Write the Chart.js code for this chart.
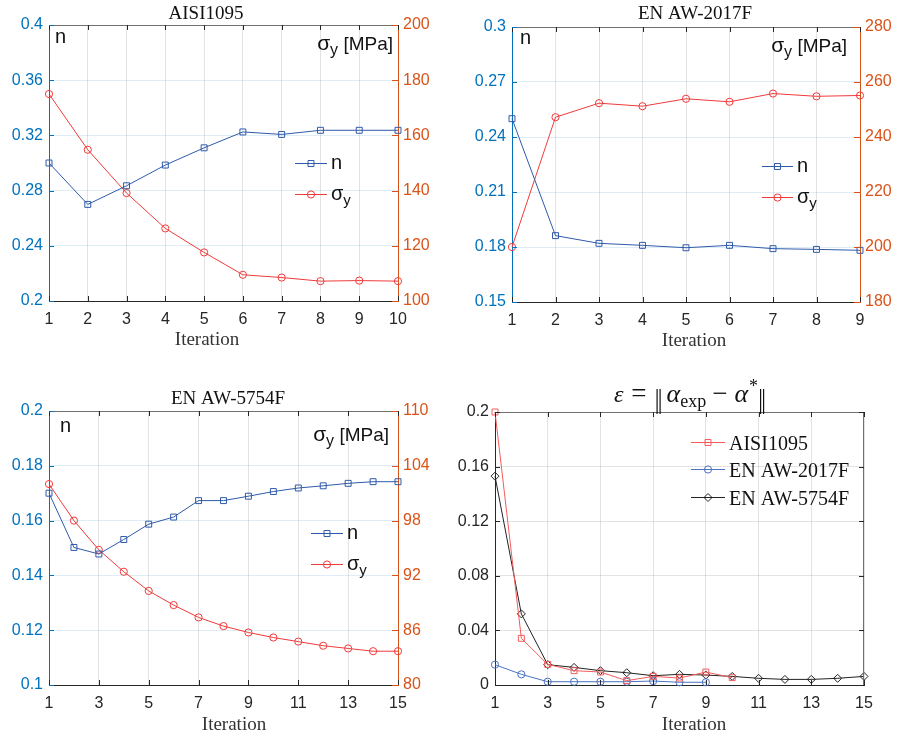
<!DOCTYPE html>
<html>
<head>
<meta charset="utf-8">
<script src="https://cdn.jsdelivr.net/npm/chart.js@4.4.0/dist/chart.umd.min.js"></script>
<style>
  body { margin: 0; background: #fff; }
  #wrap { position: relative; width: 898px; height: 740px; }
  canvas { position: absolute; left: 0; top: 0; }
</style>
</head>
<body>
<div id="wrap">
  <canvas id="c1" width="898" height="740"></canvas>
  <canvas id="c2" width="898" height="740"></canvas>
  <canvas id="c3" width="898" height="740"></canvas>
  <canvas id="c4" width="898" height="740"></canvas>
</div>
<script>
// iterations
const iter10 = [1, 2, 3, 4, 5, 6, 7, 8, 9, 10];
const iter9 = [1, 2, 3, 4, 5, 6, 7, 8, 9];
const iter15 = [1, 2, 3, 4, 5, 6, 7, 8, 9, 10, 11, 12, 13, 14, 15];

// AISI1095
const nAisi = [0.300, 0.270, 0.2835, 0.2985, 0.311, 0.3225, 0.3207, 0.3237, 0.3237, 0.3237];
const syAisi = [175, 154.8, 139.1, 126.3, 117.6, 109.5, 108.5, 107.2, 107.4, 107.2];

// EN AW-2017F
const n2017 = [0.250, 0.1862, 0.182, 0.1809, 0.1796, 0.1809, 0.1791, 0.1787, 0.1782];
const sy2017 = [200, 247.2, 252.3, 251.2, 253.9, 252.8, 255.8, 254.8, 255.1];

// EN AW-5754F
const n5754 = [0.170, 0.1502, 0.1478, 0.1531, 0.1587, 0.1613, 0.1673, 0.1673, 0.1689, 0.1706, 0.1719, 0.1727, 0.1736, 0.1742, 0.1742];
const sy5754 = [102.0, 98.0, 94.8, 92.4, 90.3, 88.75, 87.4, 86.45, 85.75, 85.2, 84.75, 84.3, 84.0, 83.7, 83.7];

// error norm
const errAisi = [0.200, 0.0342, 0.0151, 0.0105, 0.0095, 0.0032, 0.0063, 0.0051, 0.0095, 0.0054];
const err2017 = [0.0149, 0.0078, 0.0024, 0.0024, 0.0024, 0.0024, 0.0029, 0.002, 0.002];
const err5754 = [0.153, 0.0521, 0.0149, 0.0129, 0.0105, 0.009, 0.0068, 0.0078, 0.0073, 0.0063, 0.0049, 0.0041, 0.0041, 0.0049, 0.0063];

// tick labels
const xTicks10 = [1, 2, 3, 4, 5, 6, 7, 8, 9, 10];
const xTicks9 = [1, 2, 3, 4, 5, 6, 7, 8, 9];
const xTicks15 = [1, 3, 5, 7, 9, 11, 13, 15];
const nTicksAisi = [0.2, 0.24, 0.28, 0.32, 0.36, 0.4];
const syTicksAisi = [100, 120, 140, 160, 180, 200];
const nTicks2017 = [0.15, 0.18, 0.21, 0.24, 0.27, 0.3];
const syTicks2017 = [180, 200, 220, 240, 260, 280];
const nTicks5754 = [0.1, 0.12, 0.14, 0.16, 0.18, 0.2];
const syTicks5754 = [80, 86, 92, 98, 104, 110];
const errTicks = [0, 0.04, 0.08, 0.12, 0.16, 0.2];

const AX_BLUE = '#0072BD';
const AX_ORANGE = '#D95319';
const DARK = '#262626';
const LINE_BLUE = '#2f5aaa';
const LINE_RED = '#f03a3a';
const SANS = '"Liberation Sans", Arial, sans-serif';
const SERIF = '"Liberation Serif", "Times New Roman", serif';
const W = 898, H = 740;

Chart.defaults.font.family = SANS;

function series(xs, ys) {
  return ys.map((v, i) => ({ x: xs[i], y: v }));
}

function fixTicks(list) {
  return scale => { scale.ticks = list.map(v => ({ value: v })); };
}

// force the size of an axis box so the plot area lands where we want it
function sizeTo(n) {
  return scale => {
    if (scale.isHorizontal()) scale.height = n; else scale.width = n;
  };
}

function fmt(v) {
  return String(+v.toFixed(4));
}

function seg(ctx, x1, y1, x2, y2) {
  ctx.beginPath();
  ctx.moveTo(x1, y1);
  ctx.lineTo(x2, y2);
  ctx.stroke();
}

// parts: [{t, font, dy, gap}] or {bar: true, w}
function rich(ctx, parts, x, y, align, color) {
  const widthOf = p => {
    let g = p.gap || 0;
    if (p.bar) return g + p.w;
    ctx.font = p.font;
    return g + ctx.measureText(p.t).width;
  };
  let w = 0;
  parts.forEach(p => { w += widthOf(p); });
  let cx = align === 'right' ? x - w : align === 'center' ? x - w / 2 : x;
  ctx.fillStyle = color;
  ctx.strokeStyle = color;
  ctx.textAlign = 'left';
  ctx.textBaseline = 'alphabetic';
  parts.forEach(p => {
    const g = p.gap || 0;
    if (p.bar) {
      ctx.lineWidth = 1.2;
      seg(ctx, cx + g + 1.5, y - p.up, cx + g + 1.5, y + p.down);
      seg(ctx, cx + g + 4.5, y - p.up, cx + g + 4.5, y + p.down);
    } else {
      ctx.font = p.font;
      ctx.fillText(p.t, cx + g, y + (p.dy || 0));
    }
    cx += widthOf(p);
  });
}

function labelParts(label, size, family) {
  const bits = label.split('_');
  const parts = [{ t: bits[0], font: size + 'px ' + family }];
  if (bits[1]) parts.push({ t: bits[1], font: Math.round(size * 0.75) + 'px ' + family, dy: 5 });
  return parts;
}

function decor(cfg) {
  return {
    id: 'decor',
    afterDraw(chart) {
      const ctx = chart.ctx;
      const a = chart.chartArea;
      const x = chart.scales.x, y = chart.scales.y, y1 = chart.scales.y1;
      ctx.save();
      ctx.lineWidth = 1;

      // box
      ctx.strokeStyle = '#707070';
      seg(ctx, a.left, a.top + 0.5, a.right, a.top + 0.5);
      if (!y1) seg(ctx, a.right - 0.5, a.top, a.right - 0.5, a.bottom);

      // inward tick marks
      ctx.strokeStyle = DARK;
      x.ticks.forEach(t => {
        const p = Math.round(x.getPixelForValue(t.value)) + 0.5;
        seg(ctx, p, a.bottom, p, a.bottom - 5);
        seg(ctx, p, a.top, p, a.top + 5);
      });
      ctx.strokeStyle = y1 ? AX_BLUE : DARK;
      y.ticks.forEach(t => {
        const p = Math.round(y.getPixelForValue(t.value)) + 0.5;
        seg(ctx, a.left, p, a.left + 5, p);
        if (!y1) seg(ctx, a.right, p, a.right - 5, p);
      });
      if (y1) {
        ctx.strokeStyle = AX_ORANGE;
        y1.ticks.forEach(t => {
          const p = Math.round(y1.getPixelForValue(t.value)) + 0.5;
          seg(ctx, a.right, p, a.right - 6, p);
        });
      }

      // title and x label
      rich(ctx, cfg.title, cfg.titleX, cfg.titleY, 'center', '#111');
      rich(ctx, [{ t: 'Iteration', font: '19px ' + SERIF }], cfg.xlabX, cfg.xlabY, 'center', '#333');

      // axis annotations
      if (cfg.nAt) {
        rich(ctx, [{ t: 'n', font: '20px ' + SANS }], cfg.nAt[0], cfg.nAt[1], 'left', '#111');
        rich(ctx, [
          { t: 'σ', font: '21px ' + SANS },
          { t: 'y', font: '16px ' + SANS, dy: 5 },
          { t: ' [MPa]', font: '19px ' + SANS }
        ], cfg.sigAt[0], cfg.sigAt[1], 'right', '#111');
      }

      // legend
      const lg = cfg.legend;
      chart.data.datasets.forEach((ds, i) => {
        const ly = lg.ys[i] + 0.5;
        ctx.strokeStyle = ds.borderColor;
        ctx.lineWidth = 1;
        seg(ctx, lg.x1, ly, lg.x2, ly);
        ctx.fillStyle = 'rgba(0,0,0,0)';
        Chart.helpers.drawPoint(ctx, {
          pointStyle: ds.pointStyle, radius: ds.pointRadius, rotation: 0, borderWidth: 1
        }, (lg.x1 + lg.x2) / 2, ly);
        rich(ctx, labelParts(ds.label, lg.size, lg.family), lg.textX, ly + lg.shift, 'left', '#111');
      });
      ctx.restore();
    }
  };
}

function baseScales(box, xList, yList, gridColor, yColor) {
  return {
    x: {
      type: 'linear', min: xList[0], max: xList[xList.length - 1],
      afterBuildTicks: fixTicks(xList), afterFit: sizeTo(H - box[3]),
      grid: { color: 'rgba(38,38,38,0.13)', drawTicks: false },
      border: { color: DARK },
      ticks: { color: DARK, font: { size: 16 }, padding: 9, maxRotation: 0, autoSkip: false, callback: fmt }
    },
    y: {
      position: 'left', min: yList[0], max: yList[yList.length - 1],
      afterBuildTicks: fixTicks(yList), afterFit: sizeTo(box[0]),
      grid: { color: gridColor, drawTicks: false },
      border: { color: yColor },
      ticks: { color: yColor, font: { size: 16 }, padding: 6, autoSkip: false, callback: fmt }
    }
  };
}

function makeDual(id, box, xs, nData, syData, xList, nList, syList, cfg) {
  const scales = baseScales(box, xList, nList, 'rgba(0,114,189,0.13)', AX_BLUE);
  scales.y1 = {
    position: 'right', min: syList[0], max: syList[syList.length - 1],
    afterBuildTicks: fixTicks(syList), afterFit: sizeTo(W - box[2]),
    grid: { drawOnChartArea: false, drawTicks: false },
    border: { color: AX_ORANGE },
    ticks: { color: AX_ORANGE, font: { size: 16 }, padding: 5, autoSkip: false, callback: fmt }
  };
  new Chart(document.getElementById(id), {
    type: 'line',
    data: {
      datasets: [
        {
          label: 'n', data: series(xs, nData), yAxisID: 'y',
          borderColor: LINE_BLUE, backgroundColor: 'rgba(0,0,0,0)', borderWidth: 1,
          pointStyle: 'rect', pointRadius: 4.2, pointBorderWidth: 1,
          pointBackgroundColor: 'rgba(0,0,0,0)', tension: 0, clip: false
        },
        {
          label: 'σ_y', data: series(xs, syData), yAxisID: 'y1',
          borderColor: LINE_RED, backgroundColor: 'rgba(0,0,0,0)', borderWidth: 1,
          pointStyle: 'circle', pointRadius: 3.6, pointBorderWidth: 1,
          pointBackgroundColor: 'rgba(0,0,0,0)', tension: 0, clip: false
        }
      ]
    },
    options: {
      responsive: false, animation: false,
      layout: { padding: { left: 0, top: box[1], right: 0, bottom: 0 } },
      plugins: { legend: { display: false }, tooltip: { enabled: false }, title: { display: false } },
      scales: scales
    },
    plugins: [decor(cfg)]
  });
}

makeDual('c1', [49, 25, 398, 301], iter10, nAisi, syAisi, xTicks10, nTicksAisi, syTicksAisi, {
  title: [{ t: 'AISI1095', font: '19px ' + SERIF }], titleX: 206, titleY: 19,
  xlabX: 207, xlabY: 345, nAt: [55, 43], sigAt: [393, 50],
  legend: { x1: 295, x2: 327, ys: [163, 194], textX: 331, size: 20, family: SANS, shift: 5 }
});

makeDual('c2', [512, 27, 860, 302], iter9, n2017, sy2017, xTicks9, nTicks2017, syTicks2017, {
  title: [{ t: 'EN AW-2017F', font: '19px ' + SERIF }], titleX: 695, titleY: 19,
  xlabX: 694, xlabY: 346, nAt: [520, 44], sigAt: [847, 52],
  legend: { x1: 762, x2: 793, ys: [166, 197], textX: 797, size: 20, family: SANS, shift: 5 }
});

makeDual('c3', [49, 411, 398, 685], iter15, n5754, sy5754, xTicks15, nTicks5754, syTicks5754, {
  title: [{ t: 'EN AW-5754F', font: '19px ' + SERIF }], titleX: 228, titleY: 404,
  xlabX: 234, xlabY: 730, nAt: [60, 432], sigAt: [389, 441],
  legend: { x1: 311, x2: 343, ys: [533, 564], textX: 347, size: 20, family: SANS, shift: 5 }
});

// error panel
const errBox = [495, 412, 864, 685];
const errScales = baseScales(errBox, xTicks15, errTicks, 'rgba(38,38,38,0.13)', DARK);
new Chart(document.getElementById('c4'), {
  type: 'line',
  data: {
    datasets: [
      {
        label: 'AISI1095', data: series(iter10, errAisi),
        borderColor: '#f25c5c', borderWidth: 1, pointStyle: 'rect', pointRadius: 4.2,
        pointBorderWidth: 1, pointBackgroundColor: 'rgba(0,0,0,0)', tension: 0, clip: false
      },
      {
        label: 'EN AW-2017F', data: series(iter9, err2017),
        borderColor: '#4a72c0', borderWidth: 1, pointStyle: 'circle', pointRadius: 3.6,
        pointBorderWidth: 1, pointBackgroundColor: 'rgba(0,0,0,0)', tension: 0, clip: false
      },
      {
        label: 'EN AW-5754F', data: series(iter15, err5754),
        borderColor: '#222222', borderWidth: 1, pointStyle: 'rectRot', pointRadius: 4,
        pointBorderWidth: 1, pointBackgroundColor: 'rgba(0,0,0,0)', tension: 0, clip: false
      }
    ]
  },
  options: {
    responsive: false, animation: false,
    layout: { padding: { left: 0, top: errBox[1], right: W - errBox[2], bottom: 0 } },
    plugins: { legend: { display: false }, tooltip: { enabled: false }, title: { display: false } },
    scales: errScales
  },
  plugins: [decor({
    title: [
      { t: 'ε', font: 'italic 24px ' + SERIF },
      { t: '=', font: '27px ' + SERIF, gap: 8 },
      { bar: true, w: 7, up: 13, down: 12, gap: 9 },
      { t: 'α', font: 'italic 26px ' + SERIF, gap: 4 },
      { t: 'exp', font: '18px ' + SERIF, dy: 5 },
      { t: '−', font: '27px ' + SERIF, gap: 6 },
      { t: 'α', font: 'italic 26px ' + SERIF, gap: 7 },
      { t: '*', font: '18px ' + SERIF, dy: -10, gap: 1 },
      { bar: true, w: 7, up: 13, down: 12, gap: 1 }
    ],
    titleX: 690, titleY: 402, xlabX: 694, xlabY: 730,
    legend: { x1: 691, x2: 725, ys: [442, 469, 497], textX: 729, size: 20, family: SERIF, shift: 7 }
  })]
});
</script>
</body>
</html>
